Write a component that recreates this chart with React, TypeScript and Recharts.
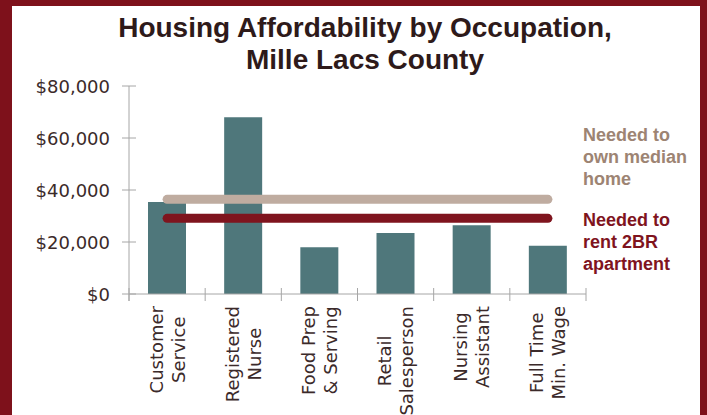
import React from "react";
import { ComposedChart, Bar, Line, XAxis, YAxis } from "recharts";

const categories = [
  "Customer\nService",
  "Registered\nNurse",
  "Food Prep\n& Serving",
  "Retail\nSalesperson",
  "Nursing\nAssistant",
  "Full Time\nMin. Wage",
];
const incomeValues = [35400, 68000, 18000, 23500, 26400, 18600];
const ownMedianHome = [36400, 36400, 36400, 36400, 36400, 36400];
const rent2BR = [29100, 29100, 29100, 29100, 29100, 29100];
const yTicks = [0, 20000, 40000, 60000, 80000];
const titleLines = ["Housing Affordability by Occupation,", "Mille Lacs County"];
const ownLabel = ["Needed to", "own median", "home"];
const rentLabel = ["Needed to", "rent 2BR", "apartment"];

const data = categories.map((name, i) => ({
  name,
  income: incomeValues[i],
  own: ownMedianHome[i],
  rent: rent2BR[i],
}));

const W = 707;
const H = 415;
const AXIS_X = 129;
const AXIS_Y = 294;
const PLOT_R = 586;
const BAND = (PLOT_R - AXIS_X) / categories.length;
const MAROON = "#7e111b";
const AXIS_COLOR = "#a6a6a6";
const TEXT_COLOR = "#3b2a2a";
const LABEL_FONT = "'DejaVu Sans', sans-serif";

let ctx: CanvasRenderingContext2D | null = null;
function measure(s: string): number {
  try {
    if (!ctx) ctx = document.createElement("canvas").getContext("2d");
    if (ctx) {
      ctx.font = "18px 'DejaVu Sans'";
      return ctx.measureText(s).width;
    }
  } catch (e) {}
  return s.length * 10;
}

const fmt = (v: number) => "$" + v.toLocaleString("en-US");

const YTick = (props: any) => {
  const { y, payload } = props;
  return (
    <g>
      <line x1={AXIS_X - 7} x2={AXIS_X + 7} y1={y} y2={y} stroke={AXIS_COLOR} strokeWidth={1} />
      {payload.value === 0 && (
        <line x1={AXIS_X} x2={AXIS_X} y1={y} y2={y + 7} stroke={AXIS_COLOR} strokeWidth={1} />
      )}
      <text
        x={110}
        y={y}
        textAnchor="end"
        dominantBaseline="central"
        fontFamily={LABEL_FONT}
        fontSize={18}
        fill={TEXT_COLOR}
      >
        {fmt(payload.value)}
      </text>
    </g>
  );
};

const XTick = (props: any) => {
  const { x, payload, index } = props;
  const lines: string[] = String(payload.value).split("\n");
  const maxW = Math.max(...lines.map(measure));
  const cy = 306 + maxW / 2;
  const offs = lines.length === 2 ? [-11, 11] : [0];
  return (
    <g>
      {index === 0 && (
        <line x1={x - BAND / 2} x2={x - BAND / 2} y1={AXIS_Y - 6} y2={AXIS_Y + 7} stroke={AXIS_COLOR} />
      )}
      <line x1={x + BAND / 2} x2={x + BAND / 2} y1={AXIS_Y - 6} y2={AXIS_Y + 7} stroke={AXIS_COLOR} />
      {lines.map((ln, i) => (
        <text
          key={i}
          x={x + offs[i]}
          y={cy}
          transform={`rotate(-90, ${x + offs[i]}, ${cy})`}
          textAnchor="middle"
          dominantBaseline="central"
          fontFamily={LABEL_FONT}
          fontSize={18}
          fill={TEXT_COLOR}
        >
          {ln}
        </text>
      ))}
    </g>
  );
};

export default function App() {
  return (
    <div style={{ position: "absolute", left: 0, top: 0, width: W, height: H, background: MAROON, overflow: "hidden" }}>
      <div style={{ position: "absolute", left: 12, top: 6, width: 688, height: H - 6, background: "#ffffff" }} />
      <div style={{ position: "absolute", left: 0, top: 0 }}>
        <ComposedChart
          width={W}
          height={H}
          data={data}
          margin={{ top: 86, right: W - PLOT_R, bottom: H - AXIS_Y - 1, left: 0 }}
        >
          <XAxis
            dataKey="name"
            interval={0}
            height={1}
            tickLine={false}
            tickSize={0}
            axisLine={{ stroke: AXIS_COLOR }}
            tick={(p: any) => <XTick {...p} />}
          />
          <YAxis
            width={AXIS_X}
            domain={[0, 80000]}
            ticks={yTicks}
            tickLine={false}
            axisLine={{ stroke: AXIS_COLOR }}
            tick={(p: any) => <YTick {...p} />}
          />
          <Bar dataKey="income" fill="#4f777b" barSize={38} isAnimationActive={false} />
          <Line
            dataKey="own"
            type="linear"
            stroke="#bfaca0"
            strokeWidth={9}
            strokeLinecap="round"
            dot={false}
            activeDot={false}
            isAnimationActive={false}
          />
          <Line
            dataKey="rent"
            type="linear"
            stroke="#7f141e"
            strokeWidth={9}
            strokeLinecap="round"
            dot={false}
            activeDot={false}
            isAnimationActive={false}
          />
        </ComposedChart>
      </div>
      <div
        style={{
          position: "absolute",
          left: 0,
          top: 12,
          width: 730,
          textAlign: "center",
          fontFamily: "'Liberation Sans', Arial, sans-serif",
          fontWeight: 700,
          fontSize: 28,
          lineHeight: "32px",
          color: "#2e1a1a",
        }}
      >
        {titleLines.map((t, i) => (
          <div key={i}>{t}</div>
        ))}
      </div>
      <div
        style={{
          position: "absolute",
          left: 583,
          top: 124,
          fontFamily: "'Liberation Sans', Arial, sans-serif",
          fontWeight: 700,
          fontSize: 18,
          lineHeight: "22px",
          color: "#9d8473",
          whiteSpace: "nowrap",
        }}
      >
        {ownLabel.map((t, i) => (
          <div key={i}>{t}</div>
        ))}
      </div>
      <div
        style={{
          position: "absolute",
          left: 583,
          top: 209,
          fontFamily: "'Liberation Sans', Arial, sans-serif",
          fontWeight: 700,
          fontSize: 18,
          lineHeight: "22px",
          color: "#7f141e",
          whiteSpace: "nowrap",
        }}
      >
        {rentLabel.map((t, i) => (
          <div key={i}>{t}</div>
        ))}
      </div>
    </div>
  );
}
